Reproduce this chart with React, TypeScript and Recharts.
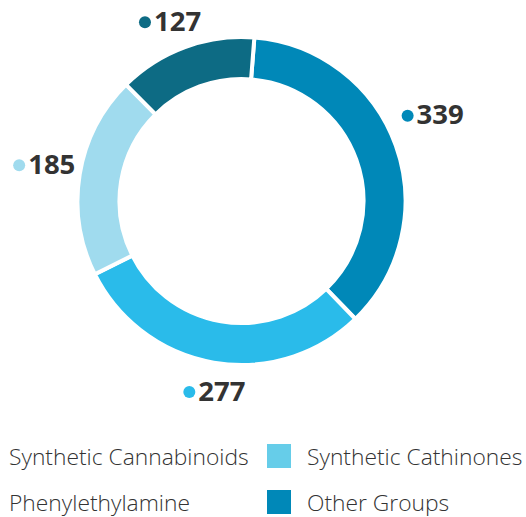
import { PieChart, Pie, Cell } from "recharts";

const groups = ["Other Groups", "Synthetic Cathinones", "Synthetic Cannabinoids", "Phenylethylamine"];
const counts = [339, 277, 185, 127];
const sliceColors = ["#0088B8", "#2ABBEA", "#A0DBEE", "#0D6B84"];

const legendNames = ["Synthetic Cannabinoids", "Synthetic Cathinones", "Phenylethylamine", "Other Groups"];
const legendColors = ["transparent", "#66CDE9", "transparent", "#0088B8"];

const data = groups.map((name, i) => ({ name, value: counts[i] }));

const RAD = Math.PI / 180;
// small nudges so labels sit like the original
const labelNudgeX = [0, 6, 1, -3];
const labelNudgeY = [-19, -10, -5, 9];

function SliceLabel(props: any) {
  const { cx, cy, midAngle, outerRadius, value, index } = props;
  const r = outerRadius + 38;
  const x = cx + r * Math.cos(-midAngle * RAD) + labelNudgeX[index];
  const y = cy + r * Math.sin(-midAngle * RAD) + labelNudgeY[index];
  return (
    <g>
      <circle cx={x - 24} cy={y + 2} r={6} fill={sliceColors[index]} />
      <text
        x={x - 15}
        y={y}
        dominantBaseline="central"
        fontFamily="'Open Sans', sans-serif"
        fontWeight={700}
        fontSize={27.5}
        fill="#333333"
      >
        {value}
      </text>
    </g>
  );
}

export default function App() {
  return (
    <div style={{ position: "absolute", left: 0, top: 0, width: 526, height: 517, background: "#fff" }}>
      <PieChart width={526} height={430} margin={{ top: 0, right: 0, bottom: 0, left: 0 }}>
        <Pie
          data={data}
          dataKey="value"
          nameKey="name"
          cx={241.5}
          cy={201}
          innerRadius={122}
          outerRadius={164}
          startAngle={85.5}
          endAngle={-274.5}
          stroke="#ffffff"
          strokeWidth={4}
          label={SliceLabel}
          labelLine={false}
          isAnimationActive={false}
        >
          {data.map((d, i) => (
            <Cell key={d.name} fill={sliceColors[i]} />
          ))}
        </Pie>
      </PieChart>
      <div
        style={{
          position: "absolute",
          left: 0,
          top: 444,
          width: 526,
          display: "grid",
          gridTemplateColumns: "267px 259px",
          rowGap: 22,
          fontFamily: "'Open Sans', sans-serif",
          fontWeight: 300,
          fontSize: 22.8,
          color: "#333333",
        }}
      >
        {legendNames.map((name, i) => (
          <div key={name} style={{ display: "flex", alignItems: "center", height: 24 }}>
            {legendColors[i] !== "transparent" && (
              <span style={{ width: 24, height: 24, background: legendColors[i], marginRight: 16, flexShrink: 0 }} />
            )}
            <span style={{ marginLeft: legendColors[i] === "transparent" ? 9 : 0, whiteSpace: "nowrap" }}>{name}</span>
          </div>
        ))}
      </div>
    </div>
  );
}
